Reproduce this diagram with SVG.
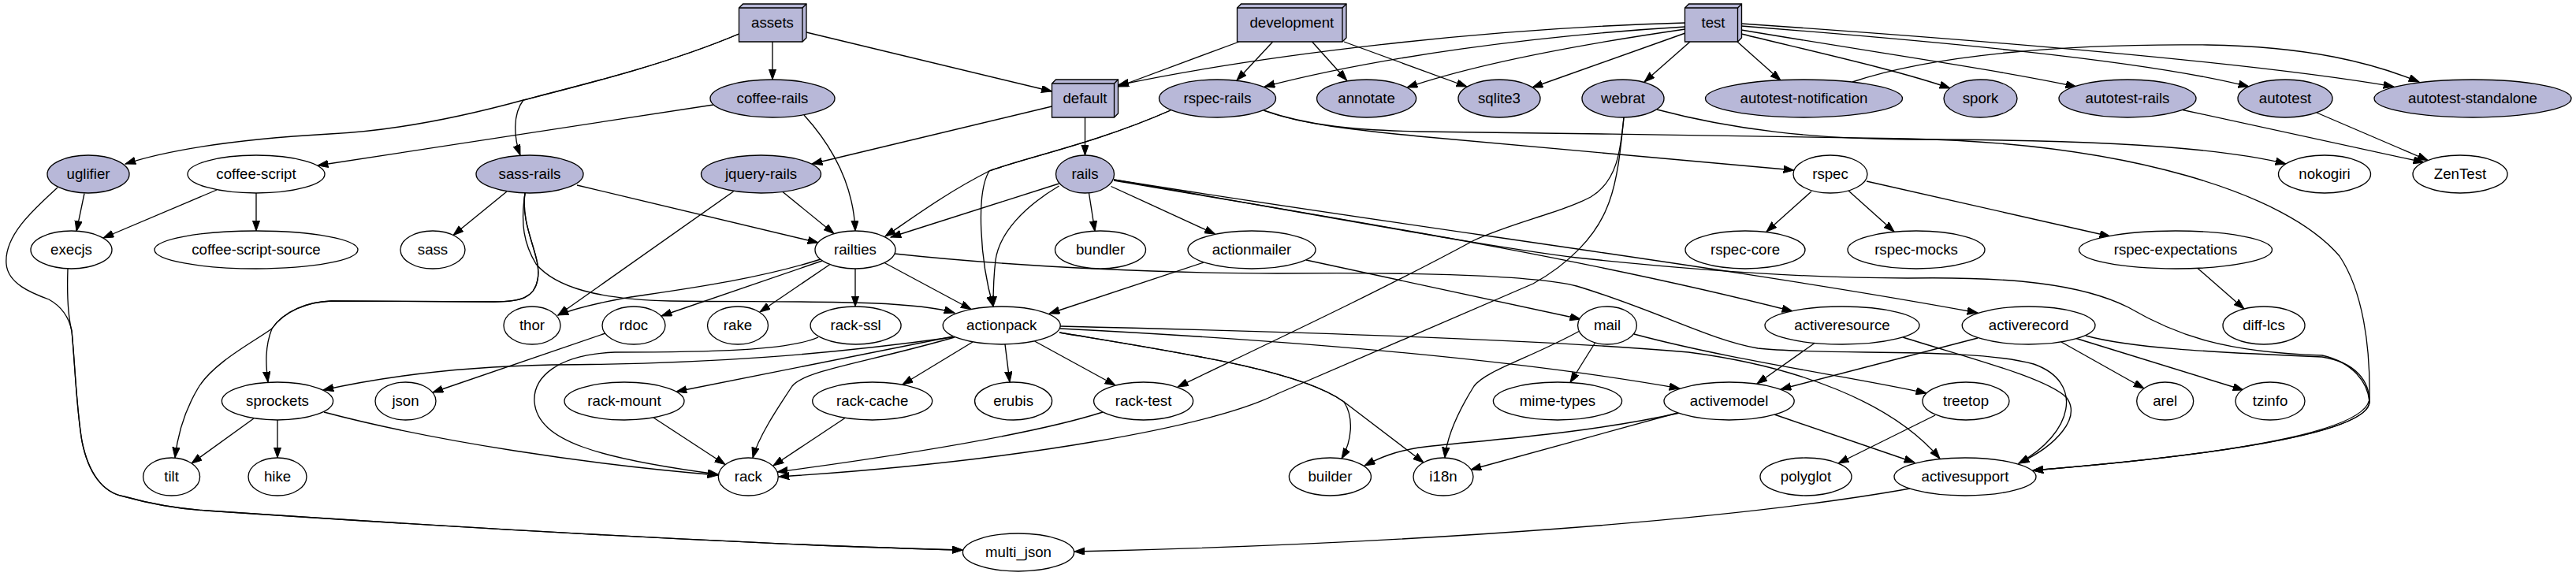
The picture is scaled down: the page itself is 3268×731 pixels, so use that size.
<svg xmlns="http://www.w3.org/2000/svg" width="3268" height="731" viewBox="0 0 3268 731">
<style>
.n ellipse,.n polygon{stroke:#000;stroke-width:1.33;fill:#fff}
.f ellipse,.f polygon{fill:#b8b8d8}
.n polyline{fill:none;stroke:#000;stroke-width:1.33}
.n text{font-family:"Liberation Sans",Arial,Helvetica,sans-serif;font-size:18.67px;text-anchor:middle;fill:#000}
#edges path{fill:none;stroke:#000;stroke-width:1.33;marker-end:url(#arr)}
</style>
<defs>
<marker id="arr" markerUnits="userSpaceOnUse" markerWidth="14" markerHeight="10" refX="13.3" refY="4.67" orient="auto">
<path d="M0,0 L13.3,4.67 L0,9.33 Z" fill="#000" stroke="#000" stroke-width="1"/>
</marker>
</defs>
<rect width="3268" height="731" fill="#fff"/>
<g id="edges">
<path d="M937.5,43 C850,80 750,105 664,127 C580,150 500,166 418,170 C330,175 230,185 159,208"/>
<path d="M937.5,43 C850,80 750,105 664,127 C650,145 652,175 660,197"/>
<path d="M980,53 L980,101"/>
<path d="M1023,41 L1334.5,116"/>
<path d="M1572,53 L1418.5,110"/>
<path d="M1614.7,53 L1569,102"/>
<path d="M1664.6,53 L1708.6,102"/>
<path d="M1705,53 L1861,110"/>
<path d="M2138,29 C1880,36 1600,70 1418.5,108"/>
<path d="M2138,34 C1950,45 1750,72 1604,110"/>
<path d="M2138,37 C2000,57 1870,82 1785,111"/>
<path d="M2138,42 L1944,111"/>
<path d="M2144,53 L2086,104"/>
<path d="M2204,53 L2259,102"/>
<path d="M2209,43 C2320,70 2410,90 2474,112"/>
<path d="M2209,38 C2400,70 2530,88 2634,110"/>
<path d="M2209,33 C2450,52 2720,76 2853,110"/>
<path d="M2209,30 C2500,50 2850,78 3037,110"/>
<path d="M2350,104 C2450,70 2620,55 2800,57 C2930,59 3010,80 3069,104"/>
<path d="M1334.5,135 L1030,208"/>
<path d="M1376.5,149 L1376.5,197"/>
<path d="M905,133 L403,210"/>
<path d="M1020,146 C1060,190 1083,240 1085,293"/>
<path d="M107,245.5 L97,293.5"/>
<path d="M73,238 C40,268 5,300 8,335 C10,360 40,372 62,380 C80,390 88,405 91,420 C95,460 97,520 104,560 C112,600 130,625 157,630 C200,642 230,646 262,648 C500,664 900,690 1221,698"/>
<path d="M86,341 C85,370 86,400 91,420 C95,460 97,520 104,560 C112,600 130,625 157,630 C200,642 230,646 262,648 C500,664 900,690 1221,698"/>
<path d="M275,241 L131,302"/>
<path d="M325,245 L325,293"/>
<path d="M643,243 L575,298.5"/>
<path d="M732,235 L1038,308"/>
<path d="M666,245 C660,290 688,325 682,355 C678,378 660,383 627,383 L420,382 C390,383 360,395 345,417 C336,440 337,462 340,485"/>
<path d="M666,245 C660,290 688,325 682,355 C678,378 660,383 627,383 L420,382 C390,383 360,395 345,417 C325,432 270,460 251,493 C232,525 225,555 222,581"/>
<path d="M666,245 C660,285 665,310 680,335 C705,365 760,380 850,382 C1000,384 1150,379 1211,397"/>
<path d="M993,243.5 L1058,296.5"/>
<path d="M930.5,243 L708,400"/>
<path d="M1343.5,233 L1130,301"/>
<path d="M1485,140 C1390,182 1300,200 1255,217 C1200,245 1160,275 1123,300"/>
<path d="M1485,140 C1390,182 1300,200 1255,217 C1238,245 1243,330 1260,389"/>
<path d="M1343.5,236 C1300,262 1268,295 1263,330 C1260,355 1260,375 1260,389"/>
<path d="M1381.5,245 L1389,293.5"/>
<path d="M1409.5,236.5 L1541.5,297"/>
<path d="M1413,229 C1700,278 2000,325 2274,395"/>
<path d="M1413,228 C1800,290 2200,340 2509,397"/>
<path d="M1413,228 C1700,278 1900,315 2000,327 C2150,343 2300,353 2420,353 C2550,351 2640,360 2700,390 C2760,425 2820,447 2946,451 C2985,460 3004,485 3006,510 C3005,545 2850,575 2579,597"/>
<path d="M1603,140 C1650,158 1720,165 1800,173 L2276,216"/>
<path d="M1603,140 C1660,160 1720,165 1800,167 C2000,170 2250,172 2420,176 C2700,182 2900,245 2968,325 C2998,370 3007,440 3006,505 C3005,545 2850,575 2579,597"/>
<path d="M2298,243 L2241,294"/>
<path d="M2345,242 L2403,294"/>
<path d="M2368,230 L2677,300"/>
<path d="M2788,340.5 L2847,392"/>
<path d="M2102,139 C2200,165 2300,176 2420,177 C2600,177 2800,182 2900,208"/>
<path d="M2060,149 C2056,190 2052,230 2018,250 C1980,270 1920,282 1870,305 C1750,370 1600,440 1494,491"/>
<path d="M2060,149 C2056,190 2052,230 2040,260 C2025,300 1990,335 1945,360 L1620,500 C1540,540 1300,585 988,605"/>
<path d="M1657,330 L2005,405"/>
<path d="M1527,333 L1331,398"/>
<path d="M1041,329 C960,355 860,368 800,377 C760,384 730,391 708,400"/>
<path d="M1043,331 L839,401"/>
<path d="M1053,335.5 L964,396"/>
<path d="M1085,341 L1085,389"/>
<path d="M1122,333.5 L1232,392.5"/>
<path d="M1135,322 C1300,340 1500,347 1620,347 C1800,345 1950,350 2000,363 C2100,393 2170,432 2230,442 C2320,452 2500,440 2580,462 C2645,485 2630,550 2561,588"/>
<path d="M1345,414 C1600,420 1950,430 2142,447 C2280,465 2400,510 2461,582"/>
<path d="M1345,417 C1600,430 1900,452 2131,493"/>
<path d="M1344,422 C1500,448 1650,470 1705,510 C1718,530 1715,560 1702,582"/>
<path d="M1344,422 C1500,448 1650,470 1705,510 L1806,587"/>
<path d="M1275,437 L1281,485"/>
<path d="M1312.6,433 L1415,489"/>
<path d="M1234,434 L1145,488"/>
<path d="M1211,428 C1100,460 1020,470 1005,490 C985,520 962,555 955,581"/>
<path d="M1209,427 L858,497"/>
<path d="M1208,428 C1050,450 900,462 700,463 C600,465 500,475 410,495"/>
<path d="M1038,428 C1000,445 900,447 780,447 C705,450 676,480 678,510 C682,560 760,582 911,602"/>
<path d="M411,523 C550,560 750,590 911,603"/>
<path d="M322,531 L243,588"/>
<path d="M352,533 L352,581"/>
<path d="M768,423 L549,498"/>
<path d="M829,530 L920,589.5"/>
<path d="M1072,530.5 L981,591"/>
<path d="M1399,523 C1330,545 1200,570 986,599"/>
<path d="M2004,420 C1940,455 1885,470 1870,490 C1845,530 1835,560 1833,581"/>
<path d="M2023.6,435 L1992,485.5"/>
<path d="M2073,424 C2200,458 2350,478 2444,499"/>
<path d="M2302,435.5 L2229,487"/>
<path d="M2414,428 C2500,455 2598,480 2622,505 C2640,530 2610,565 2561,588"/>
<path d="M2509,429 L2259,494"/>
<path d="M2615,434 L2720,493"/>
<path d="M2634,429.5 L2846,495"/>
<path d="M2646,426 C2700,441 2800,447 2946,453 C2990,460 3006,485 3006,510 C3005,545 2850,575 2579,597"/>
<path d="M2251,526 L2429,587"/>
<path d="M2131,524 C2000,553 1860,560 1800,568 C1770,573 1752,580 1731,591"/>
<path d="M2128,524 L1866,596"/>
<path d="M2455,527 L2332,588"/>
<path d="M2423,620 C2200,660 1800,690 1363,700"/>
<path d="M2769,139.5 L3075,206"/>
<path d="M2939,143 L3080,203.5"/>
</g>
<g id="node-assets" class="n f"><polygon points="1023,5 942.5,5 937.5,10 937.5,53 1018,53 1023,48"/><polyline points="1018,10 937.5,10"/><polyline points="1018,10 1018,53"/><polyline points="1018,10 1023,5"/><text x="980" y="35">assets</text></g>
<g id="node-development" class="n f"><polygon points="1708,5 1574.5,5 1569.5,10 1569.5,53 1703,53 1708,48"/><polyline points="1703,10 1569.5,10"/><polyline points="1703,10 1703,53"/><polyline points="1703,10 1708,5"/><text x="1638.8" y="35">development</text></g>
<g id="node-test" class="n f"><polygon points="2209.5,5 2142.5,5 2137.5,10 2137.5,53 2204.5,53 2209.5,48"/><polyline points="2204.5,10 2137.5,10"/><polyline points="2204.5,10 2204.5,53"/><polyline points="2204.5,10 2209.5,5"/><text x="2173.5" y="35">test</text></g>
<g id="node-default" class="n f"><polygon points="1418.5,101 1339.5,101 1334.5,106 1334.5,149 1413.5,149 1418.5,144"/><polyline points="1413.5,106 1334.5,106"/><polyline points="1413.5,106 1413.5,149"/><polyline points="1413.5,106 1418.5,101"/><text x="1376.5" y="131">default</text></g>
<g id="node-coffee-rails" class="n f"><ellipse cx="980" cy="125" rx="79" ry="24"/><text x="980" y="131">coffee-rails</text></g>
<g id="node-rspec-rails" class="n f"><ellipse cx="1544.5" cy="125" rx="74" ry="24"/><text x="1544.5" y="131">rspec-rails</text></g>
<g id="node-annotate" class="n f"><ellipse cx="1733.6" cy="125" rx="63" ry="24"/><text x="1733.6" y="131">annotate</text></g>
<g id="node-sqlite3" class="n f"><ellipse cx="1902" cy="125" rx="52" ry="24"/><text x="1902" y="131">sqlite3</text></g>
<g id="node-webrat" class="n f"><ellipse cx="2059" cy="125" rx="52" ry="24"/><text x="2059" y="131">webrat</text></g>
<g id="node-autotest-notification" class="n f"><ellipse cx="2288.5" cy="125" rx="125" ry="24"/><text x="2288.5" y="131">autotest-notification</text></g>
<g id="node-spork" class="n f"><ellipse cx="2512.5" cy="125" rx="46.5" ry="24"/><text x="2512.5" y="131">spork</text></g>
<g id="node-autotest-rails" class="n f"><ellipse cx="2699" cy="125" rx="87" ry="24"/><text x="2699" y="131">autotest-rails</text></g>
<g id="node-autotest" class="n f"><ellipse cx="2899" cy="125" rx="60" ry="24"/><text x="2899" y="131">autotest</text></g>
<g id="node-autotest-standalone" class="n f"><ellipse cx="3137" cy="125" rx="125" ry="24"/><text x="3137" y="131">autotest-standalone</text></g>
<g id="node-uglifier" class="n f"><ellipse cx="112" cy="221" rx="52" ry="24"/><text x="112" y="227">uglifier</text></g>
<g id="node-coffee-script" class="n"><ellipse cx="325" cy="221" rx="87" ry="24"/><text x="325" y="227">coffee-script</text></g>
<g id="node-sass-rails" class="n f"><ellipse cx="672" cy="221" rx="68" ry="24"/><text x="672" y="227">sass-rails</text></g>
<g id="node-jquery-rails" class="n f"><ellipse cx="965.5" cy="221" rx="76" ry="24"/><text x="965.5" y="227">jquery-rails</text></g>
<g id="node-rails" class="n f"><ellipse cx="1376.5" cy="221" rx="37" ry="24"/><text x="1376.5" y="227">rails</text></g>
<g id="node-rspec" class="n"><ellipse cx="2322" cy="221" rx="47" ry="24"/><text x="2322" y="227">rspec</text></g>
<g id="node-nokogiri" class="n"><ellipse cx="2949" cy="221" rx="58.5" ry="24"/><text x="2949" y="227">nokogiri</text></g>
<g id="node-ZenTest" class="n"><ellipse cx="3121" cy="221" rx="60" ry="24"/><text x="3121" y="227">ZenTest</text></g>
<g id="node-execjs" class="n"><ellipse cx="90.5" cy="317" rx="51.5" ry="24"/><text x="90.5" y="323">execjs</text></g>
<g id="node-coffee-script-source" class="n"><ellipse cx="325" cy="317" rx="129" ry="24"/><text x="325" y="323">coffee-script-source</text></g>
<g id="node-sass" class="n"><ellipse cx="549" cy="317" rx="41" ry="24"/><text x="549" y="323">sass</text></g>
<g id="node-railties" class="n"><ellipse cx="1085" cy="317" rx="51" ry="24"/><text x="1085" y="323">railties</text></g>
<g id="node-bundler" class="n"><ellipse cx="1396" cy="317" rx="57.5" ry="24"/><text x="1396" y="323">bundler</text></g>
<g id="node-actionmailer" class="n"><ellipse cx="1588" cy="317" rx="81" ry="24"/><text x="1588" y="323">actionmailer</text></g>
<g id="node-rspec-core" class="n"><ellipse cx="2214" cy="317" rx="76" ry="24"/><text x="2214" y="323">rspec-core</text></g>
<g id="node-rspec-mocks" class="n"><ellipse cx="2431" cy="317" rx="87" ry="24"/><text x="2431" y="323">rspec-mocks</text></g>
<g id="node-rspec-expectations" class="n"><ellipse cx="2760" cy="317" rx="122.5" ry="24"/><text x="2760" y="323">rspec-expectations</text></g>
<g id="node-thor" class="n"><ellipse cx="675" cy="413" rx="36" ry="24"/><text x="675" y="419">thor</text></g>
<g id="node-rdoc" class="n"><ellipse cx="804" cy="413" rx="40" ry="24"/><text x="804" y="419">rdoc</text></g>
<g id="node-rake" class="n"><ellipse cx="936" cy="413" rx="38.5" ry="24"/><text x="936" y="419">rake</text></g>
<g id="node-rack-ssl" class="n"><ellipse cx="1085.6" cy="413" rx="57.5" ry="24"/><text x="1085.6" y="419">rack-ssl</text></g>
<g id="node-actionpack" class="n"><ellipse cx="1270.7" cy="413" rx="74.5" ry="24"/><text x="1270.7" y="419">actionpack</text></g>
<g id="node-mail" class="n"><ellipse cx="2039" cy="413" rx="37.4" ry="24"/><text x="2039" y="419">mail</text></g>
<g id="node-activeresource" class="n"><ellipse cx="2337" cy="413" rx="98" ry="24"/><text x="2337" y="419">activeresource</text></g>
<g id="node-activerecord" class="n"><ellipse cx="2573.6" cy="413" rx="84.4" ry="24"/><text x="2573.6" y="419">activerecord</text></g>
<g id="node-diff-lcs" class="n"><ellipse cx="2872" cy="413" rx="52" ry="24"/><text x="2872" y="419">diff-lcs</text></g>
<g id="node-sprockets" class="n"><ellipse cx="352" cy="509" rx="70.6" ry="24"/><text x="352" y="515">sprockets</text></g>
<g id="node-json" class="n"><ellipse cx="514.5" cy="509" rx="38.5" ry="24"/><text x="514.5" y="515">json</text></g>
<g id="node-rack-mount" class="n"><ellipse cx="792" cy="509" rx="76" ry="24"/><text x="792" y="515">rack-mount</text></g>
<g id="node-rack-cache" class="n"><ellipse cx="1106.7" cy="509" rx="76" ry="24"/><text x="1106.7" y="515">rack-cache</text></g>
<g id="node-erubis" class="n"><ellipse cx="1285.6" cy="509" rx="49" ry="24"/><text x="1285.6" y="515">erubis</text></g>
<g id="node-rack-test" class="n"><ellipse cx="1450.6" cy="509" rx="63" ry="24"/><text x="1450.6" y="515">rack-test</text></g>
<g id="node-mime-types" class="n"><ellipse cx="1976" cy="509" rx="81.6" ry="24"/><text x="1976" y="515">mime-types</text></g>
<g id="node-activemodel" class="n"><ellipse cx="2193.6" cy="509" rx="82.6" ry="24"/><text x="2193.6" y="515">activemodel</text></g>
<g id="node-treetop" class="n"><ellipse cx="2494" cy="509" rx="55" ry="24"/><text x="2494" y="515">treetop</text></g>
<g id="node-arel" class="n"><ellipse cx="2746.7" cy="509" rx="36" ry="24"/><text x="2746.7" y="515">arel</text></g>
<g id="node-tzinfo" class="n"><ellipse cx="2880" cy="509" rx="44" ry="24"/><text x="2880" y="515">tzinfo</text></g>
<g id="node-tilt" class="n"><ellipse cx="217.6" cy="605" rx="36" ry="24"/><text x="217.6" y="611">tilt</text></g>
<g id="node-hike" class="n"><ellipse cx="352" cy="605" rx="37" ry="24"/><text x="352" y="611">hike</text></g>
<g id="node-rack" class="n"><ellipse cx="949.3" cy="605" rx="38" ry="24"/><text x="949.3" y="611">rack</text></g>
<g id="node-builder" class="n"><ellipse cx="1687.4" cy="605" rx="52" ry="24"/><text x="1687.4" y="611">builder</text></g>
<g id="node-i18n" class="n"><ellipse cx="1831" cy="605" rx="38" ry="24"/><text x="1831" y="611">i18n</text></g>
<g id="node-polyglot" class="n"><ellipse cx="2291" cy="605" rx="58" ry="24"/><text x="2291" y="611">polyglot</text></g>
<g id="node-activesupport" class="n"><ellipse cx="2493" cy="605" rx="90" ry="24"/><text x="2493" y="611">activesupport</text></g>
<g id="node-multi_json" class="n"><ellipse cx="1292" cy="701" rx="70.6" ry="24"/><text x="1292" y="707">multi_json</text></g>
</svg>
